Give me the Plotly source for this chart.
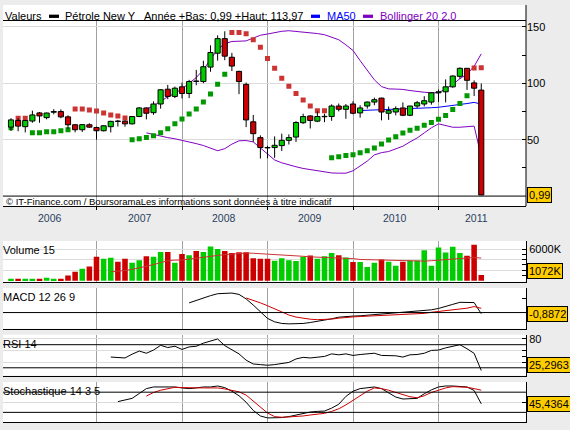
import plotly.graph_objects as go

W, H = 570, 430

# ---------------- data (monthly, Jan 2006 .. Jul 2011) ----------------
months = [f"{y}-{m:02d}" for y in range(2006, 2012) for m in range(1, 13)][:67]

opens = [61.1, 67.0, 61.5, 66.5, 73.7, 69.5, 74.3, 74.9, 70.2, 63.2, 58.8, 63.2,
         60.8, 57.9, 61.5, 66.5, 66.4, 64.0, 70.5, 78.1, 73.9, 81.6, 94.7, 88.3,
         96.8, 90.9, 101.8, 101.5, 114.3, 126.6, 139.5, 123.0, 110.5, 99.0, 65.8, 51.8,
         43.0, 43.0, 44.7, 49.4, 52.3, 65.0, 71.0, 66.4, 70.3, 70.5, 79.8, 76.9,
         81.6, 73.7, 79.8, 83.3, 86.8, 73.4, 74.5, 78.1, 71.6, 79.8, 81.6, 83.3,
         91.5, 92.4, 96.8, 106.1, 113.2, 100.3, 93.9]
highs = [69.0, 69.0, 67.5, 75.7, 74.5, 74.0, 77.0, 76.8, 71.5, 63.8, 63.8, 64.5,
         61.5, 62.6, 66.7, 67.5, 67.0, 70.8, 78.8, 78.5, 83.9, 94.7, 98.5, 97.0,
         100.5, 103.0, 111.8, 119.9, 133.6, 142.4, 146.0, 126.9, 111.0, 100.6, 71.9, 53.8,
         44.5, 52.9, 55.3, 54.7, 66.4, 73.0, 71.6, 75.0, 73.0, 81.3, 82.0, 81.5,
         84.0, 80.5, 83.8, 87.2, 87.2, 79.3, 79.5, 83.0, 80.0, 84.3, 88.5, 92.0,
         94.4, 103.4, 106.9, 113.97, 113.5, 102.5, 99.8]
lows = [57.7, 57.5, 56.4, 65.0, 65.0, 68.0, 72.5, 69.0, 59.5, 56.5, 56.8, 60.5,
        50.0, 57.3, 56.4, 61.6, 61.5, 63.5, 70.0, 68.0, 72.0, 77.5, 85.9, 86.8,
        86.5, 86.8, 98.2, 100.0, 110.2, 120.0, 120.4, 110.8, 90.3, 61.1, 48.0, 33.3,
        33.5, 33.9, 40.0, 45.7, 48.0, 64.0, 59.9, 65.5, 65.5, 66.7, 75.0, 68.5,
        72.5, 69.5, 77.5, 80.5, 67.1, 67.5, 71.5, 70.8, 70.8, 78.0, 79.5, 81.0,
        83.3, 83.0, 96.0, 104.0, 94.1, 88.7, 0.99]
closes = [67.5, 62.0, 67.0, 71.9, 71.0, 73.6, 74.9, 70.2, 63.2, 58.8, 63.3, 61.1,
          57.9, 62.3, 66.2, 66.1, 64.0, 70.5, 78.1, 73.4, 81.6, 94.2, 88.3, 95.6,
          90.9, 101.5, 101.6, 114.6, 127.2, 139.5, 124.0, 115.2, 101.5, 67.5, 55.3, 43.0,
          42.7, 45.0, 49.4, 51.8, 65.2, 70.5, 67.0, 70.5, 70.6, 79.8, 76.9, 79.8,
          73.4, 78.1, 83.3, 85.4, 74.5, 75.7, 77.5, 71.6, 79.8, 82.7, 84.5, 91.5,
          92.4, 96.8, 106.4, 113.2, 102.6, 95.6, 0.99]

volume_k = [380, 380, 380, 380, 380, 570, 380, 380, 1000, 1720, 2290, 2700,
            4570, 4170, 4360, 3600, 4170, 3415, 3910, 4660, 4530, 5465, 5465, 3415,
            5090, 4840, 5650, 5465, 6520, 6020, 5650, 5280, 5400, 5400, 4285, 4160,
            4160, 3790, 4285, 3910, 3725, 4530, 4780, 4160, 4660, 5280, 4840, 4410,
            3540, 3540, 2610, 3415, 4036, 3600, 2860, 3600, 3850, 3850, 5775, 2860,
            6330, 5372, 6446, 5245, 4740, 6826, 1072]
vol_ma15 = [None] * 14 + [
    1677, 1780, 1950, 2150, 2450, 2700, 3050, 3450, 3800, 3910,
    3930, 4100, 4300, 4450, 4620, 4800, 4950, 5100, 5230, 5260,
    5215, 5150, 5080, 5000, 4920, 4840, 4750, 4640, 4530, 4480,
    4430, 4400, 4350, 4300, 4200, 4040, 4000, 3970, 3940, 3910,
    3880, 3850, 3800, 3740, 3720, 3800, 3900, 4000, 4150, 4300,
    4420, 4420, 4300]

sar = [60.5, 69.0, 69.0, 56.1, 56.1, 57.0, 57.0, 57.9, 58.8, 77.2, 77.2, 76.3,
       75.4, 73.7, 71.9, 71.0, 69.2, 50.0, 50.9, 51.8, 53.5, 56.1, 59.6, 64.0,
       68.4, 72.8, 77.2, 83.3, 90.4, 99.1, 107.9, 145.0, 145.0, 143.9, 138.6, 131.9,
       121.9, 113.2, 104.4, 97.4, 91.0, 85.2, 79.9, 75.6, 75.6, 34.0, 34.9, 36.0,
       36.6, 38.4, 40.1, 42.7, 46.2, 49.7, 52.6, 55.8, 58.4, 60.2, 62.8, 65.1,
       68.0, 71.5, 76.7, 82.0, 88.9, 113.4, 113.7]

ma50 = [None] * 49 + [75.8, 76.0, 76.2, 76.4, 76.6, 76.9, 77.1, 77.4, 77.7, 78.0,
                      78.3, 78.7, 79.4, 80.0, 80.8, 82.0, 83.0, 81.5]

boll_up = [None] * 19 + [
    77, 80, 84, 88, 91, 95, 100, 105, 112, 121,
    130, 135, 137, 137.2, 137.5, 140, 142.5, 143.6, 145, 146,
    146.5, 146, 145.5, 145, 144, 143, 141, 138.5, 134, 129,
    120, 112, 103, 97, 95, 94.8, 94.5, 93.5, 92.5, 92,
    91.5, 91.5, 95, 99, 104, 108, 115, 126]
boll_lo = [None] * 19 + [
    56, 54.5, 53, 51.8, 50.8, 49.5, 48, 46.5, 44.8, 42.5,
    40.2, 42, 46, 49, 49.2, 48, 42.5, 37, 32, 29.5,
    27.5, 26, 24.5, 23.5, 22, 21, 20.5, 20.3, 20.3, 22.4,
    27, 31, 36.5, 38.5, 39.5, 41.5, 44.2, 48, 51.5, 56,
    60.5, 64, 62.5, 61, 61, 61.5, 62, 35]

macd = [None] * 25 + [
    7.1, 9.0, 10.7, 12.4, 13.8, 14.3, 14.3, 13.3, 10.0, 5.5,
    0.5, -4.3, -6.8, -8.0, -8.3, -8.3, -8.0, -7.3, -6.5, -5.6,
    -4.6, -3.4, -2.8, -2.6, -2.4, -2.0, -1.6, -1.2, -0.8, -0.3,
    0.0, 0.3, 0.7, 1.3, 2.0, 3.0, 4.3, 6.0, 7.5, 7.5,
    7.3, -0.8872]
macd_sig = [None] * 33 + [
    10.7, 9.0, 7.1, 5.0, 2.8, 0.5, -1.8, -3.3, -4.3, -4.9,
    -5.2, -5.2, -4.8, -4.1, -3.5, -3.2, -2.9, -2.7, -2.5, -2.3,
    -2.1, -1.9, -1.7, -1.5, -1.2, -0.6, 0.2, 0.8, 1.4, 2.0,
    2.6, 3.2, 4.4, 3.1]

rsi = [None] * 14 + [
    48.6, 47.8, 47.0, 53.6, 59.0, 55.2, 60.7, 68.9, 65.1, 67.3,
    61.8, 66.2, 67.3, 72.7, 76.0, 79.9, 68.4, 61.8, 54.1, 43.2,
    36.6, 35.5, 34.4, 35.5, 37.1, 39.3, 45.3, 48.1, 47.0, 48.6,
    49.7, 54.1, 52.5, 54.1, 51.4, 53.0, 54.7, 55.2, 51.4, 50.8,
    50.8, 48.6, 52.5, 53.0, 55.2, 60.1, 60.7, 64.5, 66.7, 70.0,
    63.0, 55.0, 25.2963]

stoch_k = [None] * 15 + [
    52, 57, 61.6, 76.1, 90.6, 95.5, 95.5, 95.5, 95.5, 92.6,
    90.6, 92.6, 95.5, 95.5, 98.4, 93.6, 82.9, 69.4, 50.0, 25.8,
    9.3, 3.5, 3.5, 4.5, 7.4, 12.2, 16.1, 21.0, 22.9, 23.9,
    32.6, 44.2, 67.4, 82.9, 90.6, 92.6, 95.5, 90.6, 78.1, 65.5,
    59.7, 59.7, 61.6, 75.2, 86.8, 95.5, 98.4, 98.4, 97.4, 95.5,
    85.0, 45.4364]
stoch_d = [None] * 19 + [
    68.4, 79.0, 85.8, 90.6, 94.5, 93.6, 92.6, 92.6, 92.6, 92.6,
    92.6, 89.7, 85.8, 81.0, 71.3, 53.9, 34.5, 18.0, 7.4, 5.5,
    6.4, 7.4, 9.3, 12.2, 14.2, 17.1, 22.9, 30.6, 42.2, 55.8,
    69.4, 82.9, 92.6, 90.6, 85.8, 79.0, 71.3, 66.4, 63.5, 69.4,
    79.0, 86.8, 92.6, 96.5, 96.5, 94.5, 90.6, 85.8]

year_labels = ["2006", "2007", "2008", "2009", "2010", "2011"]

# ---------------- styling / layout helpers ----------------
UP, DOWN = "#00CC00", "#CC0000"
SAR_UP, SAR_DOWN = "#009900", "#CC3333"
PURPLE, BLUE = "#8000C0", "#0000FF"
GOLD, GRID, VGRID, BG = "#FFCC00", "#DCDCDC", "#A0A0A0", "#ECECEC"
FONT = "Liberation Sans, Arial, sans-serif"

X0_PX, STEP_PX = 11, 7.125          # pixel of first candle, pixels per month
LEFT_PX, RIGHT_PX = 3, 526


def px2i(px):
    return (px - X0_PX) / STEP_PX


def fx(px):
    return px / W


def fy(py):
    return 1 - py / H


# (top_px, bottom_px, ref_value, ref_px, px_per_unit)
P_MAIN = (19.3, 205, 0, 195, 1.134)
P_VOL = (240, 281, 0, 280, 31.7 / 6000)
P_MACD = (287.3, 328.3, 0, 312, 1.37)
P_RSI = (334.3, 375.3, 70, 344.3, 0.58)
P_STO = (381.7, 422.3, 80, 392, 0.338)


def yrange(p):
    top, bot, v, r, k = p
    return [v - (bot - r) / k, v + (r - top) / k]


def dom(p):
    return [fy(p[1]), fy(p[0])]


def v2px(p, val):
    top, bot, v, r, k = p
    return r - (val - v) * k


def px2v(p, py):
    top, bot, v, r, k = p
    return v + (r - py) / k


def fmt(v, d):
    return f"{v:.{d}f}".replace(".", ",")


n = len(months)
idx = list(range(n))
is_up = [c >= o for o, c in zip(opens, closes)]
jan_idx = [i for i, m in enumerate(months) if m.endswith("-01") and i > 0]
xr = [px2i(LEFT_PX), px2i(RIGHT_PX)]

fig = go.Figure()

# ---- main panel, underneath layer ----
fig.add_trace(go.Scatter(x=idx, y=boll_up, mode="lines", line=dict(color=PURPLE, width=1),
                         xaxis="x", yaxis="y", hoverinfo="skip"))
fig.add_trace(go.Scatter(x=idx, y=boll_lo, mode="lines", line=dict(color=PURPLE, width=1),
                         xaxis="x", yaxis="y", hoverinfo="skip"))
fig.add_trace(go.Scatter(x=idx, y=ma50, mode="lines", line=dict(color=BLUE, width=1),
                         xaxis="x", yaxis="y", hoverinfo="skip"))
fig.add_trace(go.Scatter(x=idx, y=[s if s > c else None for s, c in zip(sar, closes)],
                         mode="markers", marker=dict(symbol="square", size=5, color=SAR_DOWN),
                         xaxis="x", yaxis="y", hoverinfo="skip"))
fig.add_trace(go.Scatter(x=idx, y=[s if s <= c else None for s, c in zip(sar, closes)],
                         mode="markers", marker=dict(symbol="square", size=5, color=SAR_UP),
                         xaxis="x", yaxis="y", hoverinfo="skip"))
wx, wy = [], []
for i, lo, hi in zip(idx, lows, highs):
    wx += [i, i, None]
    wy += [lo, hi, None]
fig.add_trace(go.Scatter(x=wx, y=wy, mode="lines", line=dict(color="black", width=1),
                         xaxis="x", yaxis="y", hoverinfo="skip"))
# ---- candle bodies on an overlaying axis (drawn above the lines) ----
fig.add_trace(go.Bar(x=idx, y=[max(abs(c - o), 0.35) for o, c in zip(opens, closes)],
                     base=[min(o, c) for o, c in zip(opens, closes)], width=0.72,
                     marker=dict(color=[UP if u else DOWN for u in is_up],
                                 line=dict(color="black", width=1)),
                     xaxis="x", yaxis="y6", hoverinfo="skip"))

# ---- volume ----
fig.add_trace(go.Bar(x=idx, y=volume_k, width=0.78,
                     marker=dict(color=[UP if u else DOWN for u in is_up], line=dict(width=0)),
                     xaxis="x2", yaxis="y2", hoverinfo="skip"))
fig.add_trace(go.Scatter(x=idx, y=vol_ma15, mode="lines", line=dict(color=SAR_DOWN, width=1),
                         xaxis="x2", yaxis="y2", hoverinfo="skip"))
# ---- MACD ----
fig.add_trace(go.Scatter(x=idx, y=macd, mode="lines", line=dict(color="black", width=1),
                         xaxis="x3", yaxis="y3", hoverinfo="skip"))
fig.add_trace(go.Scatter(x=idx, y=macd_sig, mode="lines", line=dict(color=DOWN, width=1),
                         xaxis="x3", yaxis="y3", hoverinfo="skip"))
# ---- RSI ----
fig.add_trace(go.Scatter(x=idx, y=rsi, mode="lines", line=dict(color="black", width=1),
                         xaxis="x4", yaxis="y4", hoverinfo="skip"))
# ---- Stochastic ----
fig.add_trace(go.Scatter(x=idx, y=stoch_k, mode="lines", line=dict(color="black", width=1),
                         xaxis="x5", yaxis="y5", hoverinfo="skip"))
fig.add_trace(go.Scatter(x=idx, y=stoch_d, mode="lines", line=dict(color=DOWN, width=1),
                         xaxis="x5", yaxis="y5", hoverinfo="skip"))

# ---- panel titles as text traces (so the level lines can strike through them) ----
panel_titles = [("Volume 15", P_VOL, 250.7, "2"), ("MACD 12 26 9", P_MACD, 297.7, "3"),
                ("RSI 14", P_RSI, 344.7, "4"), ("Stochastique 14 3 5", P_STO, 392, "5")]
for txt, p, py, s in panel_titles:
    fig.add_trace(go.Scatter(x=[px2i(LEFT_PX)], y=[px2v(p, py)], mode="text", text=[txt],
                             textposition="middle right", cliponaxis=False,
                             textfont=dict(family=FONT, size=11, color="black"),
                             xaxis="x" + s, yaxis="y" + s, hoverinfo="skip"))

# ---------------- axes ----------------
xdom = [fx(LEFT_PX), fx(RIGHT_PX)]
common_x = dict(domain=xdom, range=xr, tickvals=jan_idx, showgrid=True, gridcolor=VGRID,
                gridwidth=1, zeroline=False, showticklabels=False, fixedrange=True,
                showline=True, linecolor="black", linewidth=1)
tickfont = dict(family=FONT, size=11, color="black")
common_y = dict(side="right", zeroline=False, fixedrange=True, ticks="inside", ticklen=4,
                tickcolor="black", tickfont=tickfont, gridcolor=GRID, gridwidth=1)

layout = dict(
    width=W, height=H, margin=dict(l=0, r=0, t=0, b=0),
    paper_bgcolor=BG, plot_bgcolor="rgba(0,0,0,0)", showlegend=False, barmode="overlay",
    xaxis=dict(common_x, anchor="y", mirror=True, ticks="outside", ticklen=3, tickcolor="black"),
    xaxis2=dict(common_x, anchor="y2", matches="x", ticks=""),
    xaxis3=dict(common_x, anchor="y3", matches="x", ticks=""),
    xaxis4=dict(common_x, anchor="y4", matches="x", ticks=""),
    xaxis5=dict(common_x, anchor="y5", matches="x", ticks=""),
    yaxis=dict(common_y, domain=dom(P_MAIN), range=yrange(P_MAIN), anchor="x",
               tickvals=[50, 100, 150], ticktext=["50", "100", "150"], showgrid=True,
               showline=False,
               minor=dict(tickvals=[25, 75, 125], ticks="inside", ticklen=4,
                          tickcolor="black", showgrid=False)),
    yaxis6=dict(domain=dom(P_MAIN), range=yrange(P_MAIN), anchor="x", overlaying="y",
                visible=False, fixedrange=True),
    yaxis2=dict(common_y, domain=dom(P_VOL), range=yrange(P_VOL), anchor="x2",
                tickvals=[2000, 4000, 6000], ticktext=["", "", "6000K"], showgrid=True,
                showline=True, linecolor="black",
                minor=dict(tickvals=[1000, 3000, 5000], ticks="inside", ticklen=4,
                           tickcolor="black", showgrid=False)),
    yaxis3=dict(common_y, domain=dom(P_MACD), range=yrange(P_MACD), anchor="x3",
                tickvals=[10], ticktext=[""], showgrid=False, showline=True, linecolor="black"),
    yaxis4=dict(common_y, domain=dom(P_RSI), range=yrange(P_RSI), anchor="x4",
                tickvals=[40, 60, 80], ticktext=["", "", "80"], showgrid=True,
                showline=True, linecolor="black",
                minor=dict(tickvals=[50], ticks="inside", ticklen=4, tickcolor="black",
                           showgrid=False)),
    yaxis5=dict(common_y, domain=dom(P_STO), range=yrange(P_STO), anchor="x5",
                tickvals=[50], ticktext=[""], showgrid=True, showline=True, linecolor="black"),
)
fig.update_layout(**layout)

# ---------------- shapes ----------------
shapes = []
panel_rects = [(3, 205), (P_VOL[0], P_VOL[1]), (P_MACD[0], P_MACD[1]),
               (P_RSI[0], P_RSI[1]), (P_STO[0], P_STO[1])]
for t, b in panel_rects:
    shapes.append(dict(type="rect", xref="paper", yref="paper", x0=fx(LEFT_PX), x1=fx(RIGHT_PX),
                       y0=fy(b), y1=fy(t), fillcolor="white", line=dict(width=0), layer="below"))
# right border of the price panel (through the legend strip)
shapes.append(dict(type="line", xref="paper", yref="paper", x0=fx(RIGHT_PX), x1=fx(RIGHT_PX),
                   y0=fy(205), y1=fy(3), line=dict(color="black", width=1), layer="above"))
# reference levels
levels = [("y", 0), ("y3", 0), ("y4", 70), ("y4", 30), ("y5", 80), ("y5", 20)]
for yref, val in levels:
    shapes.append(dict(type="line", xref="paper", yref=yref, x0=fx(LEFT_PX), x1=fx(RIGHT_PX),
                       y0=val, y1=val, line=dict(color="black", width=1), layer="above"))
# legend swatches
for x0, x1, col in [(49, 59, "black"), (311, 320, BLUE), (363, 373, PURPLE)]:
    shapes.append(dict(type="rect", xref="paper", yref="paper", x0=fx(x0), x1=fx(x1),
                       y0=fy(16), y1=fy(12.7), fillcolor=col, line=dict(width=0)))
fig.update_layout(shapes=shapes)

# ---------------- annotations ----------------
ann = []
year_lo = min(lows[i] for i, m in enumerate(months) if m.startswith("2011"))
year_hi = max(highs[i] for i, m in enumerate(months) if m.startswith("2011"))
legend_items = [(3, "Valeurs", "black"), (63, "Pétrole New Y", "black"),
                (142, f"Année +Bas: {fmt(year_lo, 2)} +Haut: {fmt(year_hi, 2)}", "black"),
                (325, "MA50", BLUE), (378, "Bollinger 20 2.0", PURPLE)]
for px, txt, col in legend_items:
    ann.append(dict(x=fx(px), y=fy(14), xref="paper", yref="paper", text=txt, showarrow=False,
                    xanchor="left", yanchor="middle", font=dict(family=FONT, size=11, color=col)))
ann.append(dict(x=fx(4), y=fy(200), xref="paper", yref="paper", showarrow=False,
                text="© IT-Finance.com / BoursoramaLes informations sont données à titre indicatif",
                xanchor="left", yanchor="middle",
                font=dict(family="Liberation Sans Narrow, Arial Narrow, " + FONT, size=9.5,
                          color="black")))
year_px = [49.6, 139.5, 224.4, 309.8, 395.4, 476.5]
for px, lab in zip(year_px, year_labels):
    ann.append(dict(x=px2i(px), y=fy(216.7), xref="x", yref="paper", text=lab, showarrow=False,
                    xanchor="center", yanchor="middle", font=dict(family=FONT, size=10.5)))

boxes = [(P_MAIN, closes[-1], fmt(closes[-1], 2)),
         (P_VOL, volume_k[-1], f"{volume_k[-1]}K"),
         (P_MACD, macd[-1], fmt(macd[-1], 4)),
         (P_RSI, rsi[-1], fmt(rsi[-1], 4)),
         (P_STO, stoch_k[-1], fmt(stoch_k[-1], 4))]
for p, val, txt in boxes:
    cy = min(v2px(p, val), p[1] - 10.5)
    ann.append(dict(x=fx(RIGHT_PX + 0.5), y=fy(cy), xref="paper", yref="paper", text=txt,
                    showarrow=False, xanchor="left", yanchor="middle", bgcolor=GOLD,
                    bordercolor="black", borderwidth=1, borderpad=1,
                    font=dict(family=FONT, size=11, color="black")))
fig.update_layout(annotations=ann)

fig.write_html("out.html")
